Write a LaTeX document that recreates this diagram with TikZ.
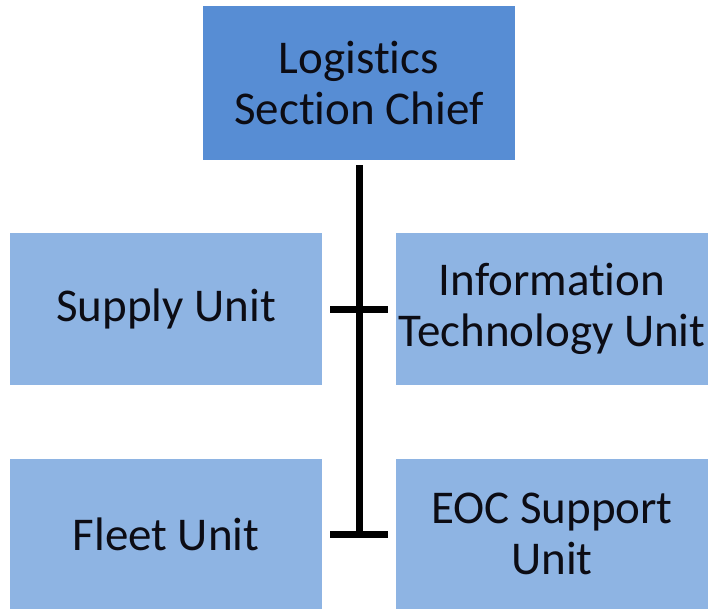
\documentclass[tikz,border=0pt]{standalone}
\usepackage{fontspec}
\setmainfont[Ligatures=NoCommon]{Carlito}
\definecolor{topblue}{RGB}{87,141,212}
\definecolor{unitblue}{RGB}{142,180,227}
\definecolor{txt}{RGB}{12,12,20}
\begin{document}
\begin{tikzpicture}[x=1pt,y=-1pt,
  box/.style={rectangle, inner sep=0pt, minimum width=312pt, align=center,
    text=txt, font=\fontsize{47}{51}\selectfont},
  conn/.style={line width=7pt, draw=black}]
\useasboundingbox (0,0) rectangle (711,609);
\node[box, fill=topblue, minimum height=154pt] (chief) at (359,83) {Logistics\\Section Chief};
\node[box, fill=unitblue, minimum height=152pt] (supply) at (166,309) {Supply Unit};
\node[box, fill=unitblue, minimum height=152pt] (it) at (552,309) {Information\\Technology Unit};
\node[box, fill=unitblue, minimum height=150pt] (fleet) at (166,534) {Fleet Unit};
\node[box, fill=unitblue, minimum height=150pt] (eoc) at (552,534) {EOC Support\\Unit};
\coordinate (bend) at (chief.south |- fleet.east);
\draw[conn, shorten <=5pt] (chief.south) -- (bend);
\draw[conn, shorten <=8pt, shorten >=8pt] (supply.east) -- (it.west);
\draw[conn, shorten <=8pt, shorten >=8pt] (fleet.east) -- (eoc.west);
\end{tikzpicture}
\end{document}
